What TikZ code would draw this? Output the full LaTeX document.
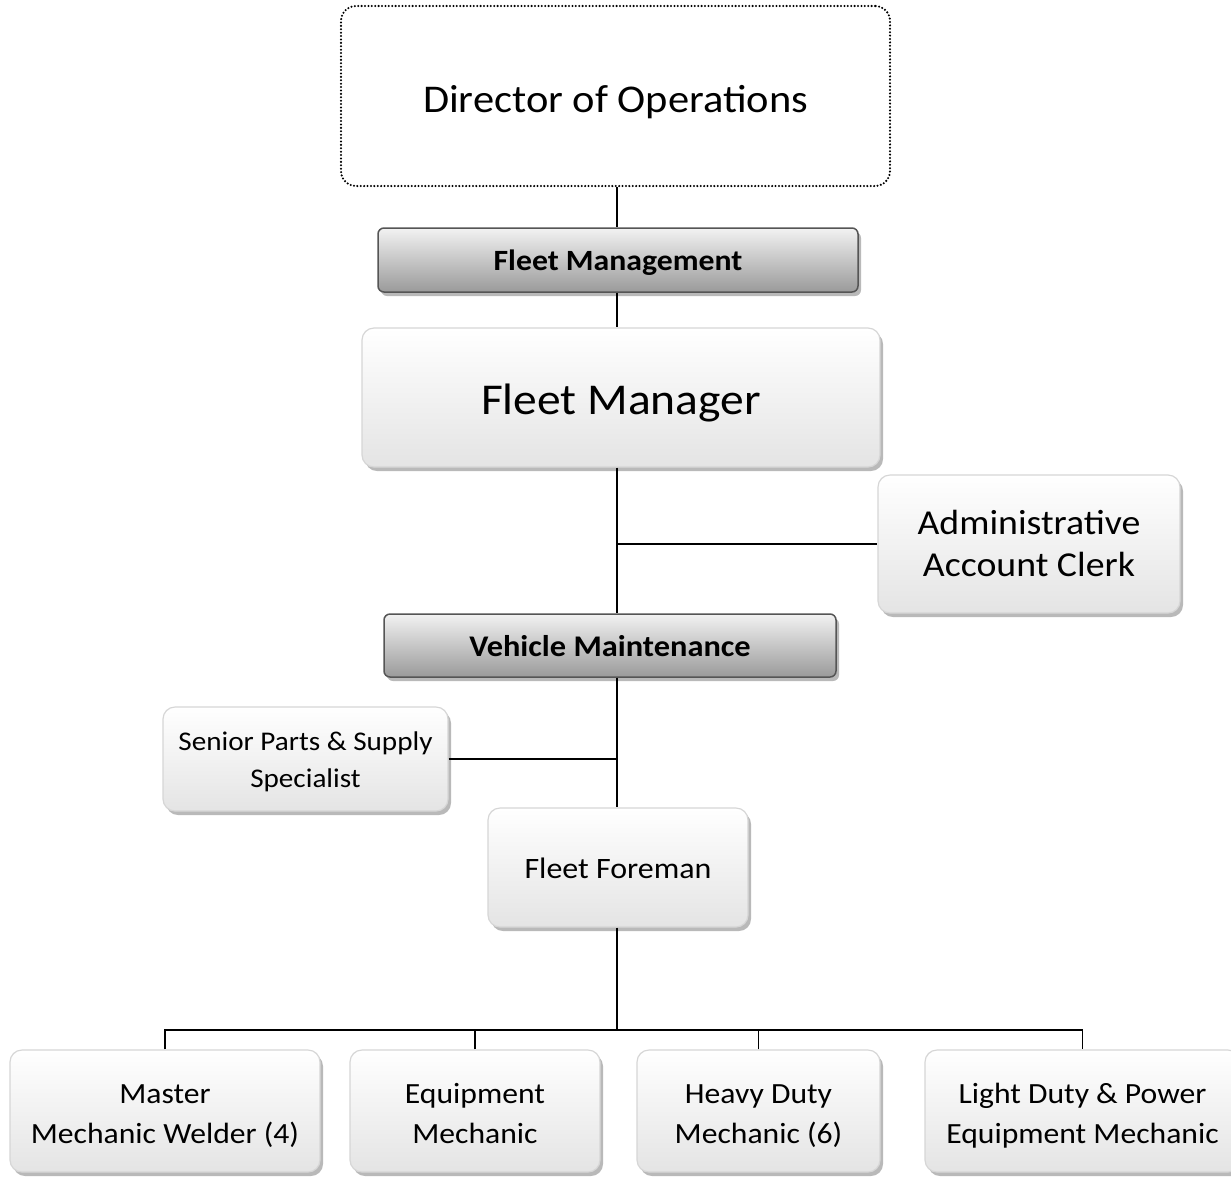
\documentclass[tikz,border=0pt]{standalone}
\usepackage{fontspec}
\setmainfont{Carlito}[FakeStretch=1.08]
\usetikzlibrary{shadows}
\definecolor{boxline}{HTML}{D6D6D6}
\definecolor{boxbottom}{HTML}{E4E4E4}
\definecolor{barline}{HTML}{555555}
\definecolor{bartop}{HTML}{F2F2F2}
\definecolor{barbottom}{HTML}{9A9A9A}
\definecolor{shadowgray}{HTML}{A8A8A8}
\newcommand{\fs}[2]{\fontsize{#1}{#2}\selectfont}
\tikzset{
  position/.style={rectangle, rounded corners=12pt, draw=boxline, line width=1.2pt,
    top color=white, bottom color=boxbottom, align=center, inner sep=0pt,
    drop shadow={shadow xshift=3pt, shadow yshift=-4pt, fill=shadowgray, opacity=0.8}},
  unitbar/.style={rectangle, rounded corners=6pt, draw=barline, line width=1.5pt,
    top color=bartop, bottom color=barbottom, align=center, inner sep=0pt,
    drop shadow={shadow xshift=3pt, shadow yshift=-4pt, fill=shadowgray, opacity=0.8}},
  headbox/.style={rectangle, rounded corners=15pt, draw=black, line width=2.3pt,
    dash pattern=on 0pt off 3.4pt, line cap=round, align=center, inner sep=0pt},
  % last baseline sits #1 below the node centre
  baseline drop/.style={text height=2*#1, text depth=0pt},
  link/.style={draw=black, line width=1.5pt}
}
\begin{document}
\begin{tikzpicture}[x=1pt, y=-1pt]
\useasboundingbox (0,0) rectangle (1231,1176);
\clip (0,0) rectangle (1231,1176);

% top of the hierarchy
\node[headbox, minimum width=549pt, minimum height=180pt, font=\fs{39.3}{47},
  baseline drop=16pt] (dir) at (615.5,96)
  {Director of Operations};

\node[unitbar, minimum width=480pt, minimum height=64pt, font=\fs{29.4}{35}\bfseries,
  baseline drop=10pt] (fmg) at (618,260)
  {Fleet Management};

\node[position, minimum width=518pt, minimum height=139pt, font=\fs{44}{53},
  baseline drop=17pt] (fmr) at (621,397.5)
  {Fleet Manager};

\node[position, minimum width=302pt, minimum height=138pt, font=\fs{35}{42},
  baseline drop=32pt] (adm) at (1029,544)
  {Administrative\\Account Clerk};

\node[unitbar, minimum width=452pt, minimum height=63pt, font=\fs{30}{36}\bfseries,
  baseline drop=10.5pt] (vm) at (610,645.5)
  {Vehicle Maintenance};

\node[position, minimum width=285pt, minimum height=104pt, font=\fs{27}{37},
  baseline drop=28pt] (spp) at (305.5,759)
  {Senior Parts \& Supply\\Specialist};

\node[position, minimum width=260pt, minimum height=119pt, font=\fs{29.6}{36},
  baseline drop=10.5pt] (ff) at (618,867.5)
  {Fleet Foreman};

% mechanics
\tikzset{mechanic/.style={position, minimum height=122pt, font=\fs{29.3}{40},
  baseline drop=32pt}}
\node[mechanic, minimum width=310pt] (b1) at (165,1111)
  {Master\\Mechanic Welder (4)};
\node[mechanic, minimum width=250pt] (b2) at (475,1111)
  {Equipment\\Mechanic};
\node[mechanic, minimum width=243pt] (b3) at (758.5,1111)
  {Heavy Duty\\Mechanic (6)};
\node[mechanic, minimum width=315pt] (b4) at (1082.5,1111)
  {Light Duty \& Power\\Equipment Mechanic};

% connectors
\coordinate (t) at (617,0);
\coordinate (bus) at (617,1030);
\draw[link] (t |- dir.south) -- (t |- fmg.north);
\draw[link] (t |- fmg.south) -- (t |- fmr.north);
\draw[link] (t |- fmr.south) -- (t |- vm.north);
\draw[link] (t |- adm.west) -- (adm.west);
\draw[link] (t |- vm.south) -- (t |- ff.north);
\draw[link] (spp.east) -- (t |- spp.east);
\draw[link] (t |- ff.south) -- (bus);
\draw[link] (b1.north) -- (b1.north |- bus) -- (b4.north |- bus) -- (b4.north);
\draw[link] (b2.north) -- (b2.north |- bus);
\draw[link] (b3.north) -- (b3.north |- bus);
\end{tikzpicture}
\end{document}
